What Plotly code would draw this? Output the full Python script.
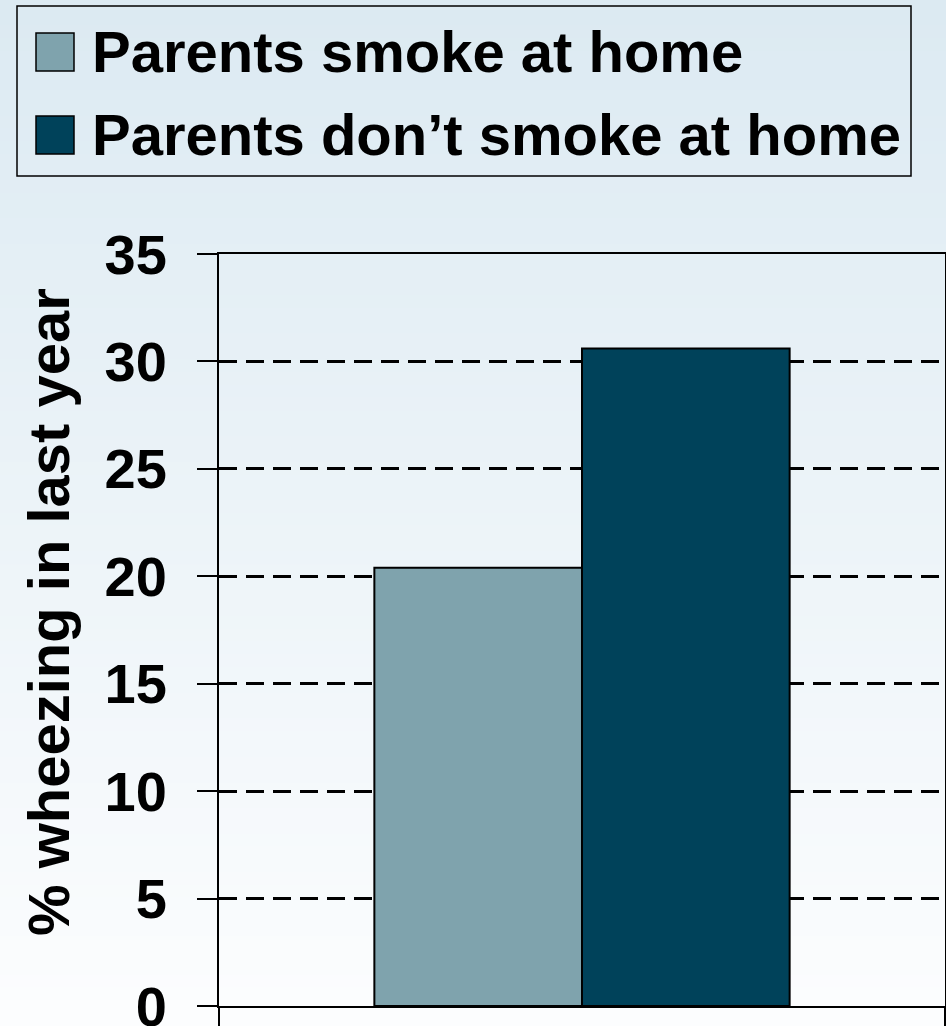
import plotly.graph_objects as go

# ---- data ----
categories = ["Children"]
series_names = ["Parents smoke at home", "Parents don\u2019t smoke at home"]
smoke_values = [20.4]
nosmoke_values = [30.6]
y_tick_values = [0, 5, 10, 15, 20, 25, 30, 35]
y_title = "% wheezing in last year"

# ---- styles ----
W, H = 946, 1026
ML, MR, MT, MB = 219, 1, 254, 20
PW, PH = W - ML - MR, H - MT - MB
colors = ["#7FA3AD", "#00425A"]
FONT = "Liberation Sans, Arial, sans-serif"


def px(x):
    return (x - ML) / PW


def py(y):
    return (H - MB - y) / PH


fig = go.Figure()
for name, vals, col in zip(series_names, [smoke_values, nosmoke_values], colors):
    fig.add_trace(go.Bar(
        x=categories, y=vals, name=name,
        marker=dict(color=col, line=dict(color="black", width=2)),
        showlegend=False,
    ))

shapes = []
# gradient background
n = 80
top = (220, 234, 242)
bot = (252, 253, 254)
for i in range(n):
    t = i / (n - 1)
    c = tuple(round(top[k] + (bot[k] - top[k]) * t) for k in range(3))
    y0 = H * i / n
    y1 = H * (i + 1) / n + 1
    shapes.append(dict(type="rect", xref="paper", yref="paper",
                       x0=px(0), x1=px(W), y0=py(y1), y1=py(y0),
                       fillcolor="rgb(%d,%d,%d)" % c, line=dict(width=0),
                       layer="below"))

# legend box
shapes.append(dict(type="rect", xref="paper", yref="paper",
                   x0=px(17), x1=px(911), y0=py(176), y1=py(6),
                   line=dict(color="black", width=1.5), fillcolor="rgba(0,0,0,0)",
                   layer="above"))
annotations = []
row_centers = [52, 135]
for name, col, yc in zip(series_names, colors, row_centers):
    shapes.append(dict(type="rect", xref="paper", yref="paper",
                       x0=px(36), x1=px(74), y0=py(yc + 19), y1=py(yc - 19),
                       fillcolor=col, line=dict(color="black", width=1.5),
                       layer="above"))
    annotations.append(dict(text=name, xref="paper", yref="paper",
                            x=px(90), y=py(yc - 1), xanchor="left", yanchor="middle",
                            showarrow=False,
                            font=dict(family=FONT, size=58, color="black", weight="bold")))

# y axis title
annotations.append(dict(text=y_title, xref="paper", yref="paper",
                        x=px(48), y=py(612), xanchor="center", yanchor="middle",
                        textangle=-90, showarrow=False,
                        font=dict(family=FONT, size=58, color="black", weight="bold")))

fig.update_layout(
    width=W, height=H,
    margin=dict(l=ML, r=MR, t=MT, b=MB, pad=0),
    paper_bgcolor="white",
    plot_bgcolor="rgba(0,0,0,0)",
    barmode="group",
    bargap=0.428,
    bargroupgap=0,
    shapes=shapes,
    annotations=annotations,
    showlegend=False,
)

fig.update_yaxes(
    range=[0, 35], tickvals=y_tick_values,
    ticks="outside", ticklen=20, tickwidth=1.5, tickcolor="black",
    showline=True, linecolor="black", linewidth=2, mirror=True,
    showgrid=True, gridcolor="black", gridwidth=2.5, griddash="18px,9px",
    zeroline=False,
    ticklabelstandoff=19,
    ticklabeloverflow="allow",
    tickfont=dict(family=FONT, size=56, color="black", weight="bold"),
    automargin=False,
)
fig.update_xaxes(
    type="category", showticklabels=False,
    ticks="outside", tickson="boundaries", ticklen=20, tickwidth=1.5, tickcolor="black",
    showline=True, linecolor="black", linewidth=2, mirror=True,
    showgrid=False, automargin=False,
)

fig.write_html("out.html")
